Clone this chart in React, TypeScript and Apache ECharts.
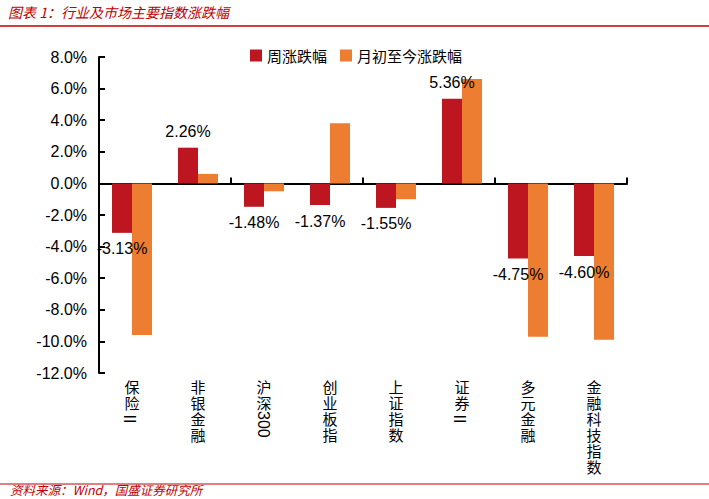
import React, { useEffect, useRef } from "react";
import * as echarts from "echarts";

const categories = ["保险Ⅱ", "非银金融", "沪深300", "创业板指", "上证指数", "证券Ⅱ", "多元金融", "金融科技指数"];
const weeklyChange = [-3.13, 2.26, -1.48, -1.37, -1.55, 5.36, -4.75, -4.6];
const monthToDate = [-9.6, 0.6, -0.5, 3.8, -1.0, 6.6, -9.7, -9.9];
const seriesNames = ["周涨跌幅", "月初至今涨跌幅"];
const titleText = "图表 1：行业及市场主要指数涨跌幅";
const sourceText = "资料来源：Wind，国盛证券研究所";

const RED = "#BE1620";
const ORANGE = "#ED7D31";
const TITLE_RED = "#C00000";
const LATIN = "'Liberation Sans', Arial, sans-serif";
const CJK = "'Noto Sans CJK SC', sans-serif";

export default function App() {
  const ref = useRef<HTMLDivElement>(null);
  useEffect(() => {
    if (!ref.current) return;
    const chart = echarts.init(ref.current, null, { renderer: "svg" });
    const isCJK = (ch: string) => /[\u4e00-\u9fff]/.test(ch);

    const option: any = {
      animation: false,
      backgroundColor: "#fff",
      grid: { left: 99, right: 82, top: 57, bottom: 126, containLabel: false },
      legend: {
        data: seriesNames,
        left: 245,
        top: 43,
        itemWidth: 12,
        itemHeight: 12,
        itemGap: 13,
        icon: "rect",
        textStyle: { fontSize: 15, color: "#000", fontFamily: CJK },
      },
      xAxis: {
        type: "category",
        data: categories,
        axisLine: { onZero: true, lineStyle: { color: "#000", width: 2 } },
        axisTick: { show: true, inside: true, length: 6, lineStyle: { color: "#000", width: 2 } },
        axisLabel: { show: false },
        splitLine: { show: false },
      },
      yAxis: {
        type: "value",
        min: -12,
        max: 8,
        interval: 2,
        axisLine: { show: true, lineStyle: { color: "#000", width: 2 } },
        axisTick: { show: true, inside: true, length: 6, lineStyle: { color: "#000", width: 2 } },
        axisLabel: {
          color: "#000",
          fontSize: 16,
          fontFamily: LATIN,
          margin: 12,
          formatter: (v: number) => v.toFixed(1) + "%",
        },
        splitLine: { show: false },
      },
      series: [
        {
          name: seriesNames[0],
          type: "bar",
          barWidth: 20,
          barGap: "0%",
          itemStyle: { color: RED },
          data: weeklyChange.map((v) => ({
            value: v,
            label: { position: v >= 0 ? "top" : "bottom" },
          })),
          label: {
            show: true,
            distance: 8,
            color: "#000",
            fontSize: 16,
            fontFamily: LATIN,
            formatter: (p: any) => Number(p.value).toFixed(2) + "%",
          },
          z: 3,
        },
        {
          name: seriesNames[1],
          type: "bar",
          barWidth: 20,
          barGap: "0%",
          itemStyle: { color: ORANGE },
          data: monthToDate,
          z: 2,
        },
        {
          type: "custom",
          name: "labels",
          clip: false,
          silent: true,
          data: categories.map((c, i) => [i, -12]),
          renderItem: (params: any, api: any) => {
            const i = api.value(0);
            const p = api.coord([i, -12]);
            const label = categories[i];
            const chars = Array.from(label);
            let cjkPart = "";
            let rest = "";
            for (const ch of chars) {
              if (!rest && isCJK(ch)) cjkPart += ch;
              else rest += ch;
            }
            const cjkChars = Array.from(cjkPart);
            const top = p[1] + 5;
            const lh = 16;
            const children: any[] = [
              {
                type: "text",
                x: p[0],
                y: top,
                style: {
                  text: cjkChars.join("\n"),
                  fontSize: 15,
                  lineHeight: lh,
                  fontFamily: CJK,
                  fill: "#000",
                  align: "center",
                  verticalAlign: "top",
                },
              },
            ];
            if (rest) {
              children.push({
                type: "text",
                x: p[0] - 1,
                y: top + cjkChars.length * lh + 1,
                rotation: -Math.PI / 2,
                style: {
                  text: rest,
                  fontSize: 16,
                  fontFamily: rest === "Ⅱ" ? CJK : LATIN,
                  fill: "#000",
                  align: "left",
                  verticalAlign: "middle",
                },
              });
            }
            return { type: "group", children };
          },
          z: 5,
        },
      ],
      graphic: [
        {
          type: "text",
          left: 8,
          top: 5,
          style: {
            text: titleText,
            fontSize: 14,
            fontStyle: "italic",
            fontFamily: CJK,
            fill: TITLE_RED,
          },
        },
        {
          type: "line",
          shape: { x1: 0, y1: 26, x2: 709, y2: 26 },
          style: { stroke: TITLE_RED, lineWidth: 1.5 },
        },
        {
          type: "line",
          shape: { x1: 0, y1: 484, x2: 709, y2: 484 },
          style: { stroke: TITLE_RED, lineWidth: 1 },
        },
        {
          type: "text",
          x: 10,
          y: 489.5,
          style: {
            text: sourceText,
            fontSize: 12.5,
            fontStyle: "italic",
            fontFamily: CJK,
            fill: TITLE_RED,
            verticalAlign: "middle",
          },
        },
      ],
    };
    chart.setOption(option);
    return () => chart.dispose();
  }, []);
  return (
    <div
      ref={ref}
      style={{ position: "fixed", left: 0, top: 0, width: 709, height: 499, background: "#fff" }}
    />
  );
}
